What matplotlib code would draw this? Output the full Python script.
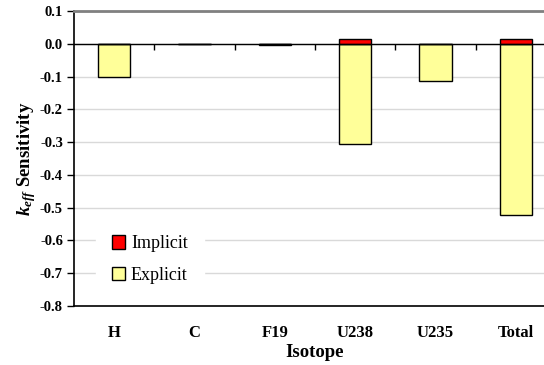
import numpy as np
import matplotlib.pyplot as plt
from matplotlib.patches import Patch

# data
isotopes = ['H', 'C', 'F19', 'U238', 'U235', 'Total']
explicit = [-0.100, 0.000, -0.005, -0.305, -0.113, -0.522]
implicit = [0.000, 0.000, 0.000, 0.016, 0.000, 0.016]
yticks = [-0.8, -0.7, -0.6, -0.5, -0.4, -0.3, -0.2, -0.1, 0.0, 0.1]
ytick_labels = ['-0.8', '-0.7', '-0.6', '-0.5', '-0.4', '-0.3', '-0.2', '-0.1', '0.0', '0.1']

plt.rcParams['font.family'] = ['Liberation Serif', 'DejaVu Serif']
plt.rcParams['mathtext.fontset'] = 'custom'
plt.rcParams['mathtext.it'] = 'Liberation Serif:italic:bold'
plt.rcParams['mathtext.rm'] = 'Liberation Serif:bold'

fig = plt.figure(figsize=(5.44, 3.65), dpi=100)
ax = fig.add_axes([74/544, 1 - 306/365, 482/544, 295/365])

x = np.arange(len(isotopes))
w = 0.4
ax.bar(x, explicit, w, color='#ffff99', edgecolor='black', linewidth=1.0, zorder=3)
ax.bar(x, implicit, w, color='#ff0000', edgecolor='black', linewidth=1.0, zorder=3)

ax.set_ylim(-0.8, 0.1)
ax.set_xlim(-0.5, len(isotopes) - 0.5)
ax.set_yticks(yticks)
ax.set_yticklabels(ytick_labels, fontweight='bold', fontsize=10.5)
ax.yaxis.grid(True, color='#d9d9d9', linewidth=1.0, zorder=0)
ax.tick_params(axis='y', direction='out', length=5, width=1, pad=3)

ax.set_xticks(x)
ax.set_xticklabels(isotopes, fontweight='bold', fontsize=12)
ax.tick_params(axis='x', length=0, pad=14)

# category axis crossing at zero
ax.axhline(0, color='black', linewidth=1.0, zorder=4)
ax.vlines(np.arange(0.5, len(isotopes) - 0.5), -0.018, 0, color='black', linewidth=1.0, zorder=4)

ax.spines['top'].set_color('#808080')
ax.spines['top'].set_linewidth(2)
ax.spines['right'].set_visible(False)
ax.spines['left'].set_linewidth(1.2)
ax.spines['bottom'].set_linewidth(1.2)

ax.set_xlabel('Isotope', fontweight='bold', fontsize=13.5, labelpad=2)
ax.set_ylabel(r'$k_{eff}$ Sensitivity', fontweight='bold', fontsize=13.5, labelpad=1)

handles = [Patch(facecolor='#ff0000', edgecolor='black', label='Implicit'),
           Patch(facecolor='#ffff99', edgecolor='black', label='Explicit')]
leg = ax.legend(handles=handles, loc='upper left', bbox_to_anchor=(0.045, 0.295),
                borderaxespad=0, frameon=True, fancybox=False, edgecolor='white',
                framealpha=1, fontsize=13, handlelength=0.75, handleheight=0.75,
                handletextpad=0.3, labelspacing=0.8, borderpad=0.9)
leg.set_zorder(5)

fig.savefig('out.png', dpi=100)
